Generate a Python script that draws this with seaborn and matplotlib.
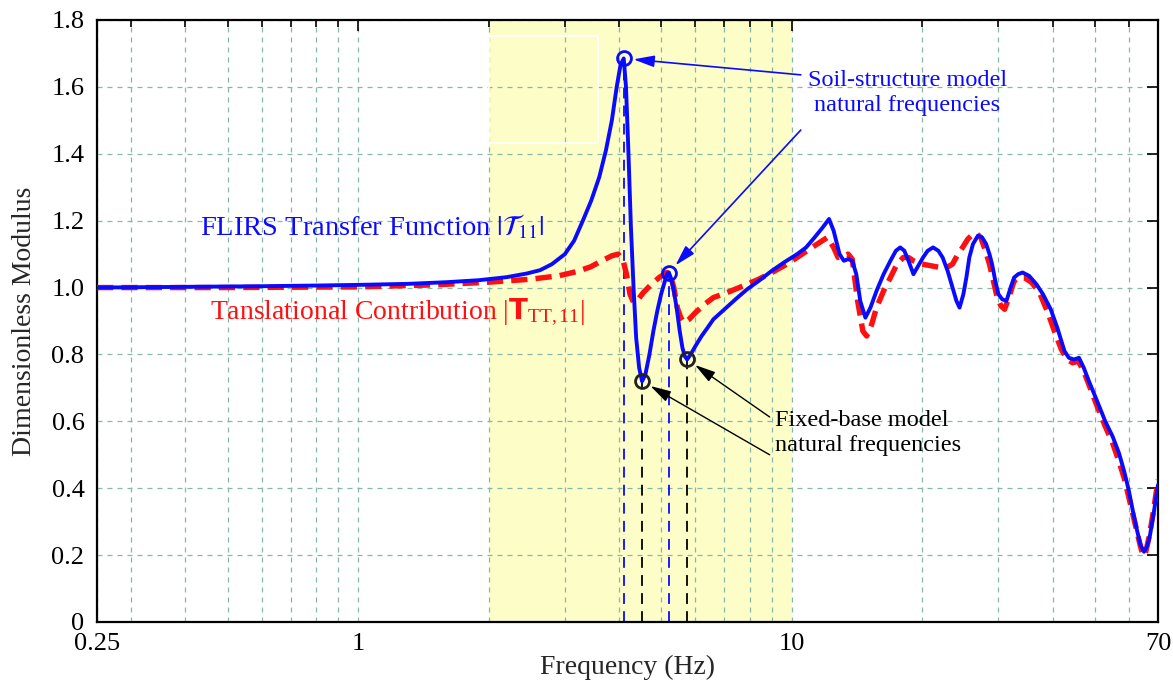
import matplotlib
matplotlib.use("Agg")
import matplotlib.pyplot as plt
import pandas as pd
import seaborn as sns
from matplotlib.ticker import FixedLocator, FixedFormatter, NullFormatter
from matplotlib.patches import Rectangle

# FLIRS transfer function |T11| (soil-structure model)
freq_flirs = [0.25, 0.4, 0.6, 0.8, 1.0, 1.3, 1.6, 1.9, 2.2, 2.45, 2.63, 2.8, 3.0, 3.15,
              3.3, 3.45, 3.6, 3.73, 3.85, 3.95, 4.03, 4.10, 4.15, 4.20, 4.26, 4.32,
              4.38, 4.45, 4.52, 4.60, 4.70, 4.80, 4.90, 5.00, 5.09, 5.16, 5.21, 5.28,
              5.35, 5.43, 5.52, 5.60, 5.67, 5.74, 5.85, 6.0, 6.2, 6.4, 6.6, 7.0, 7.5,
              7.9, 8.4, 9.0, 9.6, 10.3, 10.8, 11.3, 11.8, 12.2, 12.5, 12.9, 13.2, 13.5,
              13.8, 14.1, 14.4, 14.8, 15.2, 15.7, 16.3, 16.9, 17.4, 17.8, 18.2, 18.6,
              19.1, 19.6, 20.1, 20.6, 21.2, 21.8, 22.3, 22.9, 23.5, 24.0, 24.4, 24.9,
              25.3, 25.7, 26.2, 26.9, 27.5, 28.1, 28.6, 29.0, 29.5, 30.0, 30.6, 31.3,
              32.0, 32.6, 33.3, 34.1, 35.3, 36.7, 38.0, 39.6, 41.0, 42.6, 43.6, 44.8,
              46.0, 47.2, 48.5, 50.5, 52.9, 55.0, 56.9, 58.5, 59.9, 61.3, 62.6, 63.8,
              65.0, 66.0, 67.1, 68.5, 70.0]
mod_flirs = [1.000, 1.002, 1.004, 1.006, 1.008, 1.011, 1.016, 1.022, 1.031, 1.042, 1.052,
             1.070, 1.100, 1.140, 1.200, 1.260, 1.330, 1.410, 1.500, 1.600, 1.665, 1.685,
             1.600, 1.420, 1.180, 1.000, 0.850, 0.760, 0.720, 0.740, 0.800, 0.870, 0.930,
             0.980, 1.015, 1.040, 1.045, 1.025, 0.990, 0.940, 0.870, 0.820, 0.795, 0.785,
             0.800, 0.825, 0.855, 0.880, 0.905, 0.935, 0.970, 0.995, 1.020, 1.050, 1.075,
             1.100, 1.120, 1.150, 1.180, 1.205, 1.170, 1.100, 1.080, 1.085, 1.080, 1.040,
             0.960, 0.910, 0.940, 0.990, 1.040, 1.080, 1.110, 1.120, 1.110, 1.080, 1.040,
             1.065, 1.090, 1.110, 1.120, 1.110, 1.090, 1.050, 1.000, 0.960, 0.940, 0.980,
             1.030, 1.090, 1.130, 1.155, 1.150, 1.130, 1.100, 1.070, 1.020, 0.980, 0.965,
             0.960, 1.000, 1.030, 1.040, 1.045, 1.035, 1.010, 0.980, 0.935, 0.880, 0.810,
             0.790, 0.785, 0.790, 0.760, 0.720, 0.665, 0.600, 0.555, 0.505, 0.450, 0.395,
             0.330, 0.275, 0.230, 0.210, 0.225, 0.260, 0.330, 0.410]

# Translational contribution |T_TT,11|
freq_trans = [0.25, 0.5, 1.0, 1.5, 2.0, 2.5, 2.9, 3.2, 3.44, 3.65, 3.85, 3.98, 4.08, 4.16,
              4.24, 4.32, 4.40, 4.55, 4.75, 4.95, 5.15, 5.25, 5.35, 5.45, 5.55, 5.65,
              5.80, 6.0, 6.3, 6.6, 7.1, 7.9, 8.4, 9.0, 9.6, 10.3, 11.3, 12.1, 12.5, 12.8,
              13.2, 13.5, 13.8, 14.2, 14.6, 14.9, 15.3, 15.7, 16.3, 16.9, 17.5, 18.1,
              18.6, 19.1, 20.0, 21.0, 22.0, 22.8, 23.5, 24.2, 24.8, 25.5, 26.2, 26.6,
              27.3, 28.0, 28.6, 29.2, 29.8, 30.4, 31.0, 31.8, 32.6, 33.5, 34.4, 35.8,
              37.3, 39.0, 40.5, 41.9, 43.2, 44.5, 45.8, 47.0, 48.5, 50.5, 52.9, 55.0,
              56.9, 58.5, 59.9, 61.3, 62.6, 63.8, 64.7, 65.6, 66.8, 68.3, 70.0]
mod_trans = [1.000, 1.000, 1.002, 1.008, 1.016, 1.025, 1.035, 1.048, 1.062, 1.080, 1.095,
             1.100, 1.085, 1.040, 0.980, 0.955, 0.960, 0.985, 1.010, 1.030, 1.045, 1.040,
             1.000, 0.940, 0.910, 0.895, 0.905, 0.925, 0.950, 0.970, 0.985, 1.010, 1.025,
             1.045, 1.065, 1.090, 1.125, 1.150, 1.120, 1.090, 1.095, 1.100, 1.085, 0.960,
             0.870, 0.855, 0.890, 0.940, 0.990, 1.030, 1.070, 1.090, 1.090, 1.080, 1.070,
             1.065, 1.060, 1.060, 1.070, 1.100, 1.120, 1.145, 1.160, 1.163, 1.150, 1.110,
             1.070, 1.020, 0.970, 0.945, 0.935, 0.975, 1.020, 1.030, 1.030, 1.015, 0.985,
             0.925, 0.865, 0.815, 0.785, 0.775, 0.780, 0.755, 0.710, 0.650, 0.585, 0.535,
             0.480, 0.430, 0.375, 0.320, 0.270, 0.225, 0.198, 0.210, 0.255, 0.330, 0.425]

# Natural frequencies (Hz) and the modulus at each
ssi_freqs = [4.10, 5.21]
ssi_mods = [1.685, 1.045]
fixed_freqs = [4.52, 5.74]
fixed_mods = [0.72, 0.785]

x_major = [0.25, 1, 10, 70]
x_major_labels = ["0.25", "1", "10", "70"]
x_minor = [0.3, 0.4, 0.5, 0.6, 0.7, 0.8, 0.9, 2, 3, 4, 5, 6, 7, 8, 9,
           20, 30, 40, 50, 60]
y_ticks = [0, 0.2, 0.4, 0.6, 0.8, 1.0, 1.2, 1.4, 1.6, 1.8]
y_labels = ["0", "0.2", "0.4", "0.6", "0.8", "1.0", "1.2", "1.4", "1.6", "1.8"]

sns.set_theme(style="white")
plt.rcParams["font.family"] = ["Liberation Serif", "DejaVu Serif"]
plt.rcParams["mathtext.rm"] = "Liberation Serif"
plt.rcParams["mathtext.it"] = "Liberation Serif:italic"
plt.rcParams["mathtext.bf"] = "DejaVu Sans:bold"

fig = plt.figure(figsize=(11.73, 6.82), dpi=100)
ax = fig.add_axes([97 / 1173, 60 / 682, 1061 / 1173, 602 / 682])

ax.axvspan(2, 10, color="#fdfdc8", lw=0, zorder=0)
ax.add_patch(Rectangle((2.0, 1.432), 1.58, 0.32, fill=False, ec="white", lw=1.2, zorder=0.6))

df_flirs = pd.DataFrame({"freq": freq_flirs, "mod": mod_flirs})
df_trans = pd.DataFrame({"freq": freq_trans, "mod": mod_trans})

sns.lineplot(data=df_trans, x="freq", y="mod", ax=ax, color="#ff1010", lw=3.9, zorder=3)
ax.lines[-1].set_dashes((3.0, 1.5))
sns.lineplot(data=df_flirs, x="freq", y="mod", ax=ax, color="#0a0aff", lw=2.8, zorder=4)

# Drop lines to the frequency axis
ax.vlines(ssi_freqs, 0, ssi_mods, colors="#0a0aff", linestyles=(0, (6, 4)), lw=1.3, zorder=2.5)
ax.vlines(fixed_freqs, 0, fixed_mods, colors="black", linestyles=(0, (6, 4)), lw=1.3, zorder=2.5)
ax.plot(ssi_freqs, ssi_mods, ls="none", marker="o", ms=10, mfc="none", mec="#0a0aff", mew=2, zorder=5)
ax.plot(fixed_freqs, fixed_mods, ls="none", marker="o", ms=10, mfc="none", mec="#222222", mew=2, zorder=5)

ax.set_xscale("log")
ax.set_xlim(0.25, 70)
ax.set_ylim(0, 1.8)
ax.xaxis.set_major_locator(FixedLocator(x_major))
ax.xaxis.set_major_formatter(FixedFormatter(x_major_labels))
ax.xaxis.set_minor_locator(FixedLocator(x_minor))
ax.xaxis.set_minor_formatter(NullFormatter())
ax.yaxis.set_major_locator(FixedLocator(y_ticks))
ax.yaxis.set_major_formatter(FixedFormatter(y_labels))

ax.set_axisbelow(True)
grid_kw = dict(color="#86b9a4", lw=0.9, ls=(0, (4, 4)))
ax.grid(True, which="both", axis="x", **grid_kw)
ax.grid(True, which="major", axis="y", **grid_kw)

ax.tick_params(which="both", direction="in", top=True, right=True, colors="black",
               labelsize=19, width=1.2)
ax.tick_params(which="major", length=8, pad=9)
ax.tick_params(which="minor", length=5)
ax.tick_params(axis="x", which="major", pad=8)
for s in ax.spines.values():
    s.set_color("black")
    s.set_linewidth(1.6)

ax.set_xlabel("Frequency (Hz)", fontsize=20, labelpad=0)
ax.set_ylabel("Dimensionless Modulus", fontsize=20, labelpad=10)

ax.text(0.432, 1.181, r"FLIRS Transfer Function $|\mathcal{T}_{11}|$", color="#0a0aff",
        fontsize=20.5, va="center", ha="left", math_fontfamily="stix", zorder=6)
ax.text(0.455, 0.927, r"Tanslational Contribution $|\mathbf{T}_{\mathrm{TT,11}}|$", color="#ff1010",
        fontsize=20, va="center", ha="left", math_fontfamily="custom", zorder=6)

ax.text(10.9, 1.582, "Soil-structure model\nnatural frequencies", color="#0a0aff",
        fontsize=17.5, ha="left", va="center", multialignment="center", linespacing=1.3, zorder=6)
ax.text(9.15, 0.565, "Fixed-base model\nnatural frequencies", color="black",
        fontsize=17.5, ha="left", va="center", multialignment="left", linespacing=1.3, zorder=6)

blue_arrow = dict(arrowstyle="-|>,head_length=0.9,head_width=0.25", color="#0a0aff",
                  lw=1.2, mutation_scale=14, shrinkA=0, shrinkB=7)
black_arrow = dict(arrowstyle="-|>,head_length=0.9,head_width=0.25", color="black",
                   lw=1.0, mutation_scale=14, shrinkA=0, shrinkB=7)
ax.annotate("", xy=(ssi_freqs[0], ssi_mods[0]), xytext=(10.5, 1.636), arrowprops=blue_arrow, zorder=6)
ax.annotate("", xy=(ssi_freqs[1], ssi_mods[1]), xytext=(10.5, 1.471), arrowprops=blue_arrow, zorder=6)
ax.annotate("", xy=(fixed_freqs[1], fixed_mods[1]), xytext=(8.9, 0.613), arrowprops=black_arrow, zorder=6)
ax.annotate("", xy=(fixed_freqs[0], fixed_mods[0]), xytext=(8.9, 0.50), arrowprops=black_arrow, zorder=6)

fig.savefig("out.png", dpi=100)
